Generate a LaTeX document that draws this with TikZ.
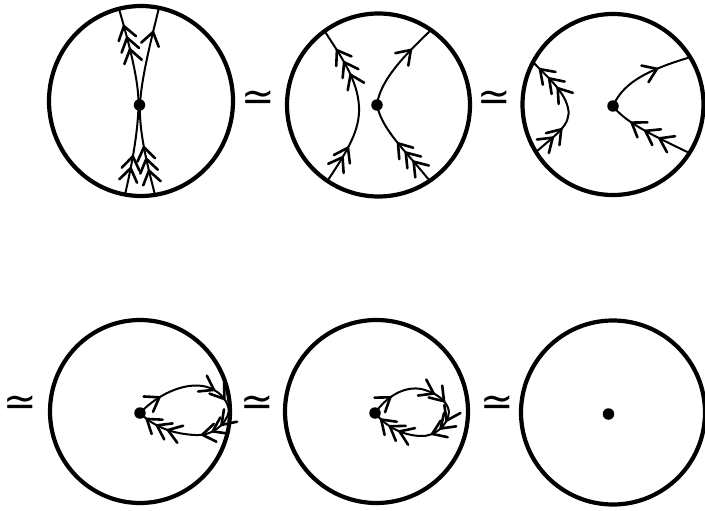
\documentclass[tikz,border=0pt]{standalone}
\usepackage{fontspec}
\usetikzlibrary{shapes.geometric,decorations.markings}
\newfontfamily\symfont{DejaVu Sans}
\tikzset{
  disc/.style={circle, draw, line width=4.2pt, inner sep=0pt},
  oval/.style={ellipse, draw, line width=4.2pt, inner sep=0pt},
  dot/.style={circle, fill, inner sep=0pt, minimum size=11.5pt},
  curve/.style={line width=2pt},
  chevron/.style={line width=2.6pt, line cap=round},
  mk/.style={postaction={decorate, decoration={markings,
     mark=at position #1 with {\draw[chevron] (-13pt,9pt) -- (0pt,0pt) -- (-13pt,-9pt);}}}},
  eqv/.style={inner sep=0pt, font=\symfont\fontsize{40}{44}\selectfont},
}
\begin{document}
\begin{tikzpicture}[x=1pt,y=-1pt]
\useasboundingbox (0,0) rectangle (705,511);
% circles
\node[oval, minimum width=184pt, minimum height=190pt] (c1) at (141,101) {};
\node[disc, minimum size=183pt] (c2) at (378.5,105) {};
\node[disc, minimum size=181pt] (c3) at (613,104.5) {};
\node[oval, minimum width=180pt, minimum height=183pt] (c4) at (140,411.5) {};
\node[disc, minimum size=183pt] (c5) at (376.5,411.5) {};
\node[disc, minimum size=184pt] (c6) at (613,412.5) {};
% dots
\node[dot] (d1) at (139.5,105) {};
\node[dot] (d2) at (377,105) {};
\node[dot] (d3) at (613,106) {};
\node[dot] (d4) at (140,413) {};
\node[dot] (d5) at (375,413) {};
\node[dot] (d6) at (608.5,414) {};
% equivalence signs
\node[eqv] (e1) at (258,101) {≃};
\node[eqv] (e2) at (494,101) {≃};
\node[eqv] (e3) at (20,406) {≃};
\node[eqv] (e4) at (257,406) {≃};
\node[eqv] (e5) at (497,406) {≃};
% endpoints
\coordinate (a1s) at (125,194.6); \coordinate (a1e) at (119,8.8);
\coordinate (b1s) at (155,194.9); \coordinate (b1e) at (159,7.8);
\coordinate (a2s) at (328,180);   \coordinate (a2e) at (325,31.7);
\coordinate (b2s) at (429,180);   \coordinate (b2e) at (430,31);
\coordinate (a3s) at (536,152);   \coordinate (a3e) at (533,62);
\coordinate (b3s) at (690,153.3); \coordinate (b3e) at (690,57.3);
\coordinate (t4) at (229,411);
\coordinate (t5) at (449,412);
% circle 1
\draw[curve, mk=27pt, mk=39pt, mk=-18pt, mk=-30pt, mk=-42pt]
  (a1s) .. controls (133,160) and (138,130) .. (138.5,105) .. controls (139,80) and (128,40) .. (a1e);
\draw[curve, mk=25pt, mk=37pt, mk=49pt, mk=-25pt]
  (b1s) .. controls (146,160) and (139,130) .. (140,105) .. controls (141,80) and (151,40) .. (b1e);
% circle 2
\draw[curve, mk=27pt, mk=38pt, mk=-22pt, mk=-36pt, mk=-50pt]
  (a2s) .. controls (348,150) and (360,130) .. (359,107) .. controls (358,80) and (340,55) .. (a2e);
\draw[curve, mk=24pt, mk=36pt, mk=48pt, mk=-27pt]
  (b2s) .. controls (405,150) and (382,130) .. (d2.center) .. controls (380,80) and (405,55) .. (b2e);
% circle 3
\draw[curve, mk=22pt, mk=34pt, mk=-10pt, mk=-23pt, mk=-36pt]
  (a3s) .. controls (555,135) and (572,125) .. (568,108) .. controls (564,90) and (545,75) .. (a3e);
\draw[curve, mk=34pt, mk=50pt, mk=66pt, mk=-35pt]
  (b3s) .. controls (650,134) and (625,122) .. (d3.center) .. controls (622,86) and (640,72) .. (b3e);
% circle 4
\draw[curve, mk=25pt, mk=-13pt, mk=-27pt]
  (d4.center) .. controls (160,392) and (190,380) .. (210,388) .. controls (222,393) and (228,402) .. (t4);
\draw[curve, mk=16pt, mk=27pt, mk=38pt, mk=-9pt, mk=-21pt, mk=-33pt]
  (t4) .. controls (226,425) and (212,436) .. (195,435) .. controls (175,434) and (155,428) .. (d4.center);
% circle 5
\draw[curve, mk=22pt, mk=-12pt, mk=-25pt]
  (d5.center) .. controls (390,392) and (410,385) .. (425,390) .. controls (438,394) and (448,402) .. (t5);
\draw[curve, mk=9pt, mk=19pt, mk=29pt, mk=-9pt, mk=-20pt, mk=-31pt]
  (t5) .. controls (448,425) and (435,437) .. (420,436) .. controls (400,435) and (385,425) .. (d5.center);
\end{tikzpicture}
\end{document}
